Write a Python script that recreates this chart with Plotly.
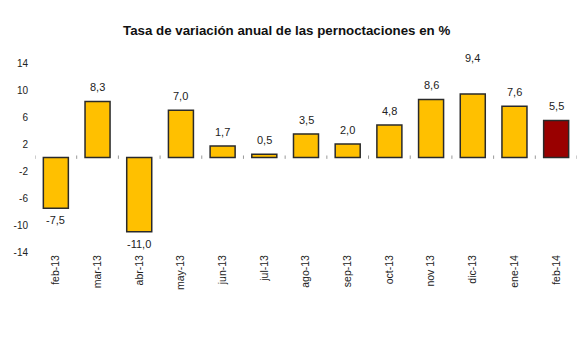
import plotly.graph_objects as go

categories = ["feb-13", "mar-13", "abr-13", "may-13", "jun-13", "jul-13",
              "ago-13", "sep-13", "oct-13", "nov 13", "dic-13", "ene-14", "feb-14"]
values = [-7.5, 8.3, -11.0, 7.0, 1.7, 0.5, 3.5, 2.0, 4.8, 8.6, 9.4, 7.6, 5.5]
y_ticks = [-14, -10, -6, -2, 2, 6, 10, 14]
y_tick_text = [str(t) for t in y_ticks]

colors = ["#FFC000"] * (len(values) - 1) + ["#990000"]

fig = go.Figure()
fig.add_trace(go.Bar(
    x=categories, y=values,
    marker=dict(color=colors, line=dict(color="#2a2a2a", width=1.5)),
    width=0.6,
    hoverinfo="x+y",
))

for c, v in zip(categories, values):
    label = f"{v:.1f}".replace(".", ",")
    shift = 14 if v >= 0 else -12
    if c == "dic-13":
        shift = 36
    fig.add_annotation(x=c, y=v, text=label, showarrow=False,
                       yshift=shift, font=dict(size=11, color="#222222"))

# small tick marks on the zero line at category boundaries
for i in range(len(categories) + 1):
    fig.add_shape(type="line", xref="x", yref="y",
                  x0=i - 0.5, x1=i - 0.5, y0=-0.2, y1=0.3,
                  line=dict(color="#999999", width=1))

fig.update_layout(
    width=585, height=355,
    margin=dict(l=35, r=8, t=63, b=103),
    paper_bgcolor="white", plot_bgcolor="white",
    font=dict(family="Liberation Sans, Arial, sans-serif", size=10, color="#222222"),
    title=dict(text="<b>Tasa de variación anual de las pernoctaciones en %</b>",
               x=0.49, xanchor="center", y=1 - 30 / 355, yanchor="middle",
               font=dict(size=13.3, color="#111111")),
    showlegend=False,
    bargap=0.4,
)
fig.update_xaxes(type="category", tickangle=-90, showline=False, showgrid=False,
                 ticks="", tickfont=dict(size=10.5), automargin=False,
                 range=[-0.5, len(categories) - 0.5])
fig.update_yaxes(range=[-14, 14], tickvals=y_ticks, ticktext=y_tick_text,
                 showgrid=False, zeroline=False, automargin=False,
                 showline=False, ticks="", tickfont=dict(size=10),
                 ticklabelstandoff=6)

fig.write_html("out.html", config={"displayModeBar": False})

# remove the default page margin so the figure sits at the window's corner
with open("out.html", "r", encoding="utf-8") as f:
    html = f.read()
html = html.replace("<head>", "<head><style>html,body{margin:0;padding:0;overflow:hidden;}</style>", 1)
with open("out.html", "w", encoding="utf-8") as f:
    f.write(html)
